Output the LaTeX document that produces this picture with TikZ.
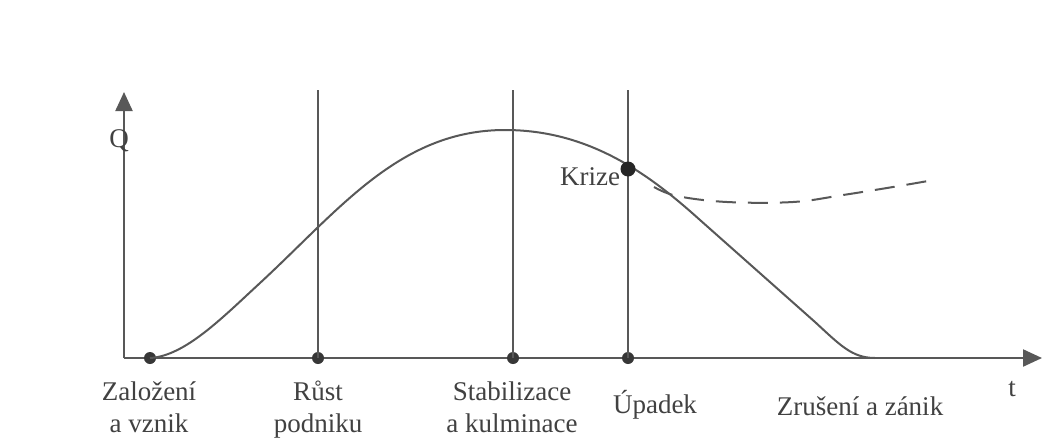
\documentclass[tikz,border=0pt]{standalone}
\usepackage{fontspec}
\setmainfont{Liberation Serif}
\usetikzlibrary{arrows.meta}
\definecolor{linec}{RGB}{88,88,88}
\definecolor{dotc}{RGB}{55,55,55}
\definecolor{textc}{RGB}{65,65,65}
\begin{document}
\begin{tikzpicture}[x=1pt,y=-1pt,
  axis/.style={draw=linec,line width=2.2pt,-{Triangle[length=19pt,width=17pt]}},
  vline/.style={draw=linec,line width=2pt},
  curve/.style={draw=linec,line width=2pt},
  dashcurve/.style={draw=linec,line width=2pt,dash pattern=on 20pt off 12pt},
  dot/.style={circle,fill=dotc,inner sep=0pt,minimum size=12pt},
  bigdot/.style={circle,fill=black!85,inner sep=0pt,minimum size=15pt},
  lbl/.style={text=textc,font=\fontsize{27}{32}\selectfont,inner sep=0pt,align=center,anchor=base}
]
\useasboundingbox (0,0) rectangle (1043,442);
\fill[white] (0,0) rectangle (1043,442);

\coordinate (O) at (124,358);
\coordinate (ytop) at (124,92);
\coordinate (xend) at (1042,358);
\draw[axis] (O) -- (ytop);
\draw[axis] (O) -- (xend);

% vertical phase lines
\coordinate (r top) at (318,90);
\coordinate (s top) at (513,90);
\coordinate (u top) at (628,90);
\node[dot] (zal) at (150,358) {};
\node[dot] (rust) at (318,358) {};
\node[dot] (stab) at (513,358) {};
\node[dot] (upad) at (628,358) {};
\draw[vline] (rust.center) -- (r top);
\draw[vline] (stab.center) -- (s top);
\draw[vline] (upad.center) -- (u top);

% life curve
\coordinate (peak) at (505,130);
\coordinate (end) at (875,358);
\draw[curve] (zal.center) .. controls (185,356) and (222,318) .. (260,283)
  .. controls (340,209) and (400,130) .. (peak)
  .. controls (590,130) and (650,175) .. (700,220)
  -- (815,322)
  .. controls (840,345) and (852,358) .. (end);
\draw[dashcurve] plot[smooth,tension=0.6] coordinates {
  (654,187) (677,196) (727,202) (793,202) (843,195) (893,187) (928,181)};

\node[bigdot] (krize) at (628,169) {};
\node[lbl] (krizelbl) at (590,185) {Krize};

\node[lbl] (Q) at (119,147) {Q};
\node[lbl] (t) at (1012,396) {t};

\node[lbl] (l1) at (149,432) {Založení\\a vznik};
\node[lbl] (l2) at (318,432) {Růst\\podniku};
\node[lbl] (l3) at (512,432) {Stabilizace\\a kulminace};
\node[lbl] (l4) at (655,413) {Úpadek};
\node[lbl] (l5) at (860,415) {Zrušení a zánik};
\end{tikzpicture}
\end{document}
